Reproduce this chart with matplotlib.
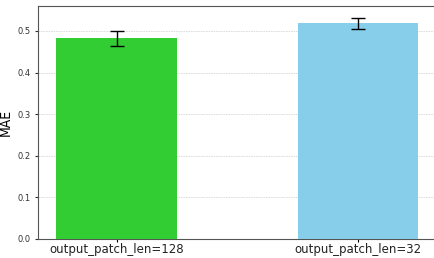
import matplotlib
matplotlib.use("Agg")
import matplotlib.pyplot as plt

labels = ["output_patch_len=128", "output_patch_len=32"]
mae = [0.482, 0.518]
mae_err = [0.018, 0.014]
colors = ["#32CD32", "#87CEEB"]

fig = plt.figure(figsize=(4.35, 2.58), dpi=100)
ax = fig.add_axes([38 / 435, 19 / 258, 398.6 / 435, 233 / 258])
x = list(range(len(labels)))
ax.bar(x, mae, width=0.5, color=colors, yerr=mae_err, capsize=5,
       error_kw={"elinewidth": 1, "capthick": 1, "ecolor": "black"}, zorder=3)
ax.set_xticks(x)
ax.set_xticklabels(labels, fontsize=8.5, color="#222222")
ax.set_ylabel("MAE", fontsize=10, fontstretch="condensed")
ax.yaxis.set_label_coords(-0.063, 0.5)
ax.tick_params(axis="y", labelsize=6, length=2, colors="#333333")
ax.tick_params(axis="x", length=2, pad=1)
ax.set_xlim(-0.325, 1.325)
ax.set_ylim(0, 0.56)
ax.grid(axis="y", linestyle=(0, (2, 1)), color="#d8d8d8", linewidth=0.6, zorder=0)
for s in ax.spines.values():
    s.set_color("#555555")
fig.savefig("out.png", dpi=100)
